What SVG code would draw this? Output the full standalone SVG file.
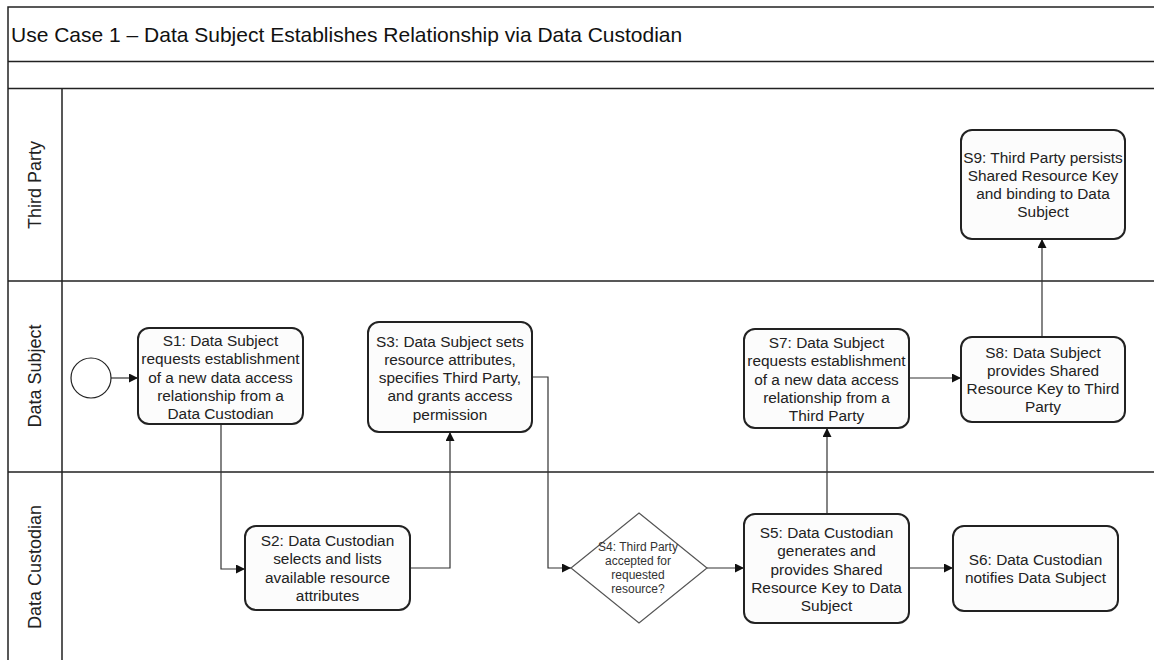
<svg xmlns="http://www.w3.org/2000/svg" width="1154" height="660" viewBox="0 0 1154 660">
<defs>
<marker id="arr" viewBox="0 0 10 10" refX="10" refY="5" markerWidth="9" markerHeight="9" markerUnits="userSpaceOnUse" orient="auto">
<path d="M0,0 L10,5 L0,10 z" fill="#111"/>
</marker>
<style>
.frame{fill:none;stroke:#222;stroke-width:1.5}
.box{fill:#fcfcfc;stroke:#222;stroke-width:2}
.dia{fill:#fff;stroke:#555;stroke-width:1.2}
.conn{fill:none;stroke:#333;stroke-width:1.2;marker-end:url(#arr)}
.t{font-family:"Liberation Sans",Arial,sans-serif;font-size:15.4px;fill:#222;text-anchor:middle}
.ts{font-family:"Liberation Sans",Arial,sans-serif;font-size:12px;fill:#333;text-anchor:middle}
.title{font-family:"Liberation Sans",Arial,sans-serif;font-size:21px;fill:#111}
.lane{font-family:"Liberation Sans",Arial,sans-serif;font-size:18px;fill:#222;text-anchor:middle}
</style>
</defs>
<rect width="1154" height="660" fill="#fff"/>
<g id="pool">
<path class="frame" d="M1154,7 H8 V660 M8,61.5 H1154 M8,88.5 H1154 M8,281 H1154 M8,472 H1154 M62,88.5 V660"/>
<text class="title" x="11" y="42">Use Case 1 – Data Subject Establishes Relationship via Data Custodian</text>
<text class="lane" transform="translate(41,185) rotate(-90)">Third Party</text>
<text class="lane" transform="translate(41,376) rotate(-90)">Data Subject</text>
<text class="lane" transform="translate(41,567) rotate(-90)">Data Custodian</text>
</g>
<g id="connectors">
<path class="conn" d="M111,378 H138"/>
<path class="conn" d="M221,424 V569 H245"/>
<path class="conn" d="M410,568 H450 V432"/>
<path class="conn" d="M532,377 H548 V568 H571"/>
<path class="conn" d="M707,568 H744"/>
<path class="conn" d="M827,514 V428"/>
<path class="conn" d="M909,568 H953"/>
<path class="conn" d="M909,378 H961"/>
<path class="conn" d="M1042,337 V239"/>
</g>
<g id="start">
<circle cx="91" cy="378" r="20" fill="#fff" stroke="#222" stroke-width="1.2"/>
</g>
<g id="s1">
<rect class="box" x="138" y="328" width="165" height="96" rx="11"/>
<text class="t" y="346"><tspan x="220.5">S1: Data Subject</tspan><tspan x="220.5" dy="18.3">requests establishment</tspan><tspan x="220.5" dy="18.3">of a new data access</tspan><tspan x="220.5" dy="18.3">relationship from a</tspan><tspan x="220.5" dy="18.3">Data Custodian</tspan></text>
</g>
<g id="s2">
<rect class="box" x="245" y="526" width="165" height="84" rx="11"/>
<text class="t" y="546"><tspan x="327.5">S2: Data Custodian</tspan><tspan x="327.5" dy="18.3">selects and lists</tspan><tspan x="327.5" dy="18.3">available resource</tspan><tspan x="327.5" dy="18.3">attributes</tspan></text>
</g>
<g id="s3">
<rect class="box" x="368" y="322" width="164" height="110" rx="11"/>
<text class="t" y="346.5"><tspan x="450">S3: Data Subject sets</tspan><tspan x="450" dy="18.3">resource attributes,</tspan><tspan x="450" dy="18.3">specifies Third Party,</tspan><tspan x="450" dy="18.3">and grants access</tspan><tspan x="450" dy="18.3">permission</tspan></text>
</g>
<g id="s4">
<path class="dia" d="M639,513 L707,568 L639,623 L571,568 z"/>
<text class="ts" y="550.5"><tspan x="638">S4: Third Party</tspan><tspan x="638" dy="14.3">accepted for</tspan><tspan x="638" dy="14.3">requested</tspan><tspan x="638" dy="14.3">resource?</tspan></text>
</g>
<g id="s5">
<rect class="box" x="744" y="514" width="165" height="109" rx="11"/>
<text class="t" y="538"><tspan x="826.5">S5: Data Custodian</tspan><tspan x="826.5" dy="18.3">generates and</tspan><tspan x="826.5" dy="18.3">provides Shared</tspan><tspan x="826.5" dy="18.3">Resource Key to Data</tspan><tspan x="826.5" dy="18.3">Subject</tspan></text>
</g>
<g id="s6">
<rect class="box" x="953" y="526" width="165" height="85" rx="11"/>
<text class="t" y="565"><tspan x="1035.5">S6: Data Custodian</tspan><tspan x="1035.5" dy="18.3">notifies Data Subject</tspan></text>
</g>
<g id="s7">
<rect class="box" x="744" y="329" width="165" height="99" rx="11"/>
<text class="t" y="348"><tspan x="826.5">S7: Data Subject</tspan><tspan x="826.5" dy="18.3">requests establishment</tspan><tspan x="826.5" dy="18.3">of a new data access</tspan><tspan x="826.5" dy="18.3">relationship from a</tspan><tspan x="826.5" dy="18.3">Third Party</tspan></text>
</g>
<g id="s8">
<rect class="box" x="961" y="337" width="164" height="85" rx="11"/>
<text class="t" y="357.5"><tspan x="1043">S8: Data Subject</tspan><tspan x="1043" dy="18.3">provides Shared</tspan><tspan x="1043" dy="18.3">Resource Key to Third</tspan><tspan x="1043" dy="18.3">Party</tspan></text>
</g>
<g id="s9">
<rect class="box" x="961" y="130" width="164" height="109" rx="11"/>
<text class="t" y="162.5"><tspan x="1043">S9: Third Party persists</tspan><tspan x="1043" dy="18.3">Shared Resource Key</tspan><tspan x="1043" dy="18.3">and binding to Data</tspan><tspan x="1043" dy="18.3">Subject</tspan></text>
</g>
</svg>
